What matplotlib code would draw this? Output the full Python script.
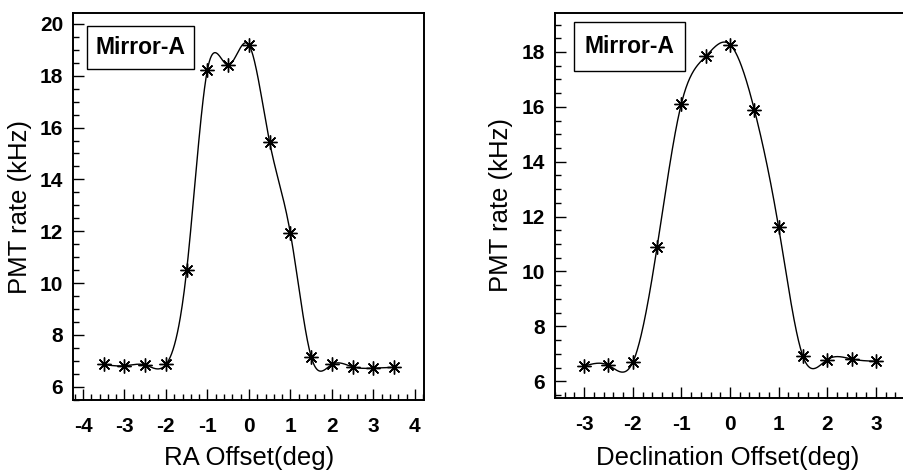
import numpy as np
import matplotlib
matplotlib.use("Agg")
import matplotlib.pyplot as plt
from matplotlib.patches import Rectangle
from matplotlib.ticker import MultipleLocator

plt.rcParams['font.family'] = ['Liberation Sans', 'DejaVu Sans']
plt.rcParams['axes.unicode_minus'] = False

# ---- data ----
ra_offset = [-3.5, -3.0, -2.5, -2.0, -1.5, -1.0, -0.5, 0.0, 0.5, 1.0, 1.5, 2.0, 2.5, 3.0, 3.5]
ra_rate = [6.86, 6.81, 6.84, 6.86, 10.50, 18.23, 18.41, 19.19, 15.43, 11.92, 7.16, 6.86, 6.77, 6.72, 6.75]

dec_offset = [-3.0, -2.5, -2.0, -1.5, -1.0, -0.5, 0.0, 0.5, 1.0, 1.5, 2.0, 2.5, 3.0]
dec_rate = [6.55, 6.58, 6.69, 10.89, 16.12, 17.84, 18.27, 15.90, 11.61, 6.91, 6.79, 6.81, 6.73]

panel_label = "Mirror-A"
ylabel = "PMT rate (kHz)"
xlabels = ["RA Offset(deg)", "Declination Offset(deg)"]


def natural_spline(x, y, n=600):
    x = np.asarray(x, float)
    y = np.asarray(y, float)
    m = len(x)
    h = np.diff(x)
    A = np.zeros((m, m))
    b = np.zeros(m)
    A[0, 0] = 1
    A[-1, -1] = 1
    for i in range(1, m - 1):
        A[i, i - 1] = h[i - 1]
        A[i, i] = 2 * (h[i - 1] + h[i])
        A[i, i + 1] = h[i]
        b[i] = 3 * ((y[i + 1] - y[i]) / h[i] - (y[i] - y[i - 1]) / h[i - 1])
    c = np.linalg.solve(A, b)
    xs = np.linspace(x[0], x[-1], n)
    idx = np.clip(np.searchsorted(x, xs) - 1, 0, m - 2)
    dx = xs - x[idx]
    hi = h[idx]
    bb = (y[idx + 1] - y[idx]) / hi - hi * (2 * c[idx] + c[idx + 1]) / 3
    dd = (c[idx + 1] - c[idx]) / (3 * hi)
    ys = y[idx] + bb * dx + c[idx] * dx ** 2 + dd * dx ** 3
    return xs, ys


W, H = 904, 474
fig = plt.figure(figsize=(W / 100, H / 100), dpi=100)

panels = [
    dict(x=ra_offset, y=ra_rate, rect=(73, 13, 424, 400), xlim=(-4.24, 4.22), ylim=(5.49, 20.42),
         yticks=np.arange(6, 21, 2), xticks=np.arange(-4, 5, 1), box=(0.040, 0.855, 0.345, 0.966),
         ylab_x=20, xlab=xlabels[0], xlab_x=249, right_spine=True),
    dict(x=dec_offset, y=dec_rate, rect=(555, 13, 906, 398), xlim=(-3.60, 3.62), ylim=(5.39, 19.42),
         yticks=np.arange(6, 19, 2), xticks=np.arange(-3, 4, 1), box=(0.054, 0.849, 0.371, 0.977),
         ylab_x=501, xlab=xlabels[1], xlab_x=728, right_spine=False),
]

for p in panels:
    l, t, r, b = p['rect']
    ax = fig.add_axes([l / W, (H - b) / H, (r - l) / W, (b - t) / H])
    xs, ys = natural_spline(p['x'], p['y'])
    ax.plot(xs, ys, color='black', lw=1.0)
    ax.plot(p['x'], p['y'], linestyle='none', marker=(8, 2, 0), ms=10, mew=1.0,
            color='black')
    ax.set_xlim(*p['xlim'])
    ax.set_ylim(*p['ylim'])
    ax.set_xticks(p['xticks'])
    ax.set_yticks(p['yticks'])
    ax.xaxis.set_minor_locator(MultipleLocator(0.2))
    ax.yaxis.set_minor_locator(MultipleLocator(0.5))
    ax.tick_params(which='major', direction='in', length=8, width=1.0, labelsize=15)
    ax.tick_params(which='minor', direction='in', length=4, width=1.0)
    ax.tick_params(axis='x', which='major', pad=12)
    ax.tick_params(axis='y', which='major', pad=7)
    for lab in ax.get_xticklabels() + ax.get_yticklabels():
        lab.set_fontweight('bold')
    for s in ax.spines.values():
        s.set_linewidth(1.4)
    if not p['right_spine']:
        ax.spines['right'].set_visible(False)

    x0, y0, x1, y1 = p['box']
    ax.add_patch(Rectangle((x0, y0), x1 - x0, y1 - y0, transform=ax.transAxes,
                           fill=True, facecolor='white', edgecolor='black', lw=1.0, zorder=5))
    ax.text((x0 + x1) / 2, (y0 + y1) / 2, panel_label, transform=ax.transAxes,
            ha='center', va='center', fontsize=16.5, fontweight='bold', zorder=6)

    cy = 1 - ((t + b) / 2) / H
    fig.text(p['ylab_x'] / W, cy, ylabel, rotation=90, ha='center', va='center', fontsize=18.5)
    fig.text(p['xlab_x'] / W, 1 - 458 / H, p['xlab'], ha='center', va='center', fontsize=18.5)

fig.savefig("out.png", dpi=100)
